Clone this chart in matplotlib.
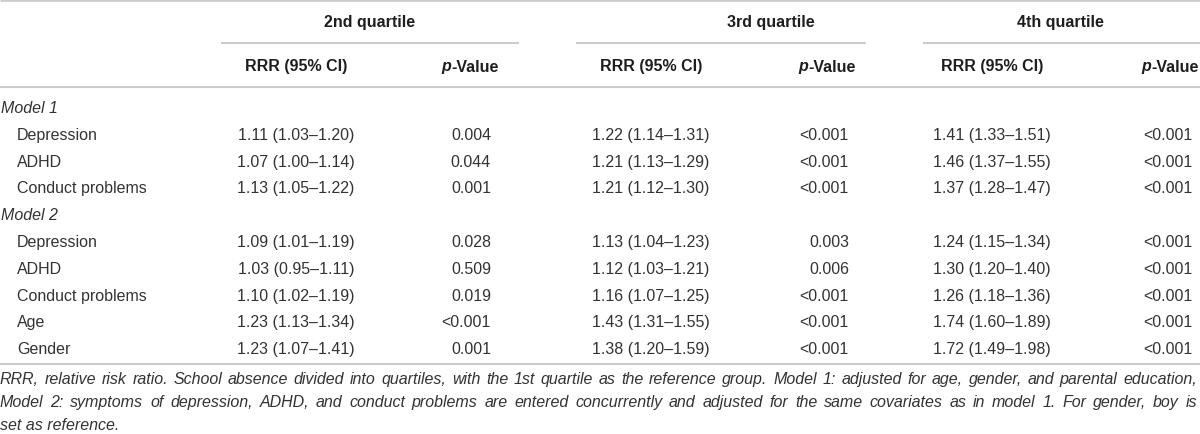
import matplotlib
matplotlib.use("Agg")
import matplotlib.pyplot as plt

# ---------------- data ----------------
groups = ["2nd quartile", "3rd quartile", "4th quartile"]
sub_headers = ["RRR (95% CI)", "p-Value"]
sections = ["Model 1", "Model 2"]
model1_vars = ["Depression", "ADHD", "Conduct problems"]
model2_vars = ["Depression", "ADHD", "Conduct problems", "Age", "Gender"]

# rows: Model 1 (Depression, ADHD, Conduct) then Model 2 (Depression, ADHD, Conduct, Age, Gender)
rrr_q2 = [1.11, 1.07, 1.13, 1.09, 1.03, 1.10, 1.23, 1.23]
lo_q2 = [1.03, 1.00, 1.05, 1.01, 0.95, 1.02, 1.13, 1.07]
hi_q2 = [1.20, 1.14, 1.22, 1.19, 1.11, 1.19, 1.34, 1.41]
p_q2 = ["0.004", "0.044", "0.001", "0.028", "0.509", "0.019", "<0.001", "0.001"]

rrr_q3 = [1.22, 1.21, 1.21, 1.13, 1.12, 1.16, 1.43, 1.38]
lo_q3 = [1.14, 1.13, 1.12, 1.04, 1.03, 1.07, 1.31, 1.20]
hi_q3 = [1.31, 1.29, 1.30, 1.23, 1.21, 1.25, 1.55, 1.59]
p_q3 = ["<0.001", "<0.001", "<0.001", "0.003", "0.006", "<0.001", "<0.001", "<0.001"]

rrr_q4 = [1.41, 1.46, 1.37, 1.24, 1.30, 1.26, 1.74, 1.72]
lo_q4 = [1.33, 1.37, 1.28, 1.15, 1.20, 1.18, 1.60, 1.49]
hi_q4 = [1.51, 1.55, 1.47, 1.34, 1.40, 1.36, 1.89, 1.98]
p_q4 = ["<0.001", "<0.001", "<0.001", "<0.001", "<0.001", "<0.001", "<0.001", "<0.001"]

footnote_lines = [
    "RRR, relative risk ratio. School absence divided into quartiles, with the 1st quartile as the reference group. Model 1: adjusted for age, gender, and parental education,",
    "Model 2: symptoms of depression, ADHD, and conduct problems are entered concurrently and adjusted for the same covariates as in model 1. For gender, boy is",
    "set as reference.",
]

# ---------------- layout ----------------
W, H = 1200, 435
FAM = ["Liberation Sans", "DejaVu Sans"]
FS = 11.5
TXT = "#333333"
HDR = "#1e1e1e"
LINE = "#cccccc"
LW = 1.5

fig = plt.figure(figsize=(12, 4.35), dpi=100)
ax = fig.add_axes([0, 0, 1, 1])
ax.set_xlim(0, W)
ax.set_ylim(H, 0)
ax.axis("off")
renderer = fig.canvas.get_renderer()

def txt(x, y, s, ha="left", weight="normal", style="normal", color=TXT):
    return ax.text(x, y, s, ha=ha, va="center", fontsize=FS, family=FAM,
                   fontweight=weight, fontstyle=style, color=color)

# horizontal rules
ax.hlines(1, 0, W, color=LINE, lw=2.0)
underlines = [(221, 519), (576, 866), (923, 1200)]
for x0, x1 in underlines:
    ax.hlines(44, x0, x1, color=LINE, lw=LW)
ax.hlines(88, 0, W, color=LINE, lw=LW)
ax.hlines(365, 0, W, color=LINE, lw=LW)

# column positions
group_cx = [370, 771, 1060]
rrr_cx = [296, 651, 992]
p_hdr_cx = [470, 827, 1170]
p_right = [491, 849, 1193]

y_grp = 22
y_sub = 67
for g, gx, rx, px in zip(groups, group_cx, rrr_cx, p_hdr_cx):
    txt(gx, y_grp, g, ha="center", weight="bold", color=HDR)
    txt(rx, y_sub, sub_headers[0], ha="center", weight="bold", color=HDR)
    # "p-Value" with italic p
    t1 = txt(0, y_sub, "p", weight="bold", style="italic", color=HDR)
    t2 = txt(0, y_sub, "-Value", weight="bold", color=HDR)
    w1 = t1.get_window_extent(renderer).width
    w2 = t2.get_window_extent(renderer).width
    left = px - (w1 + w2) / 2
    t1.set_x(left)
    t2.set_x(left + w1)

# body rows
row_step = 26.8
y0 = 108.5
labels = [(sections[0], True)] + [(v, False) for v in model1_vars] + \
         [(sections[1], True)] + [(v, False) for v in model2_vars]

rrr = [rrr_q2, rrr_q3, rrr_q4]
lo = [lo_q2, lo_q3, lo_q4]
hi = [hi_q2, hi_q3, hi_q4]
pv = [p_q2, p_q3, p_q4]

k = 0
for i, (lab, is_section) in enumerate(labels):
    y = y0 + i * row_step
    if is_section:
        txt(1, y, lab, style="italic")
        continue
    txt(17, y, lab)
    for q in range(3):
        s = f"{rrr[q][k]:.2f} ({lo[q][k]:.2f}\u2013{hi[q][k]:.2f})"
        txt(rrr_cx[q], y, s, ha="center")
        txt(p_right[q], y, pv[q][k], ha="right")
    k += 1

# footnote (justified)
foot_y = [380, 403, 426]
full_w = 1197
for li, (line, y) in enumerate(zip(footnote_lines, foot_y)):
    if li < len(footnote_lines) - 1:
        words = line.split(" ")
        objs = [txt(0, y, w, style="italic") for w in words]
        widths = [o.get_window_extent(renderer).width for o in objs]
        gap = (full_w - sum(widths)) / (len(words) - 1)
        x = 0
        for o, wd in zip(objs, widths):
            o.set_x(x)
            x += wd + gap
    else:
        txt(0, y, line, style="italic")

fig.savefig("out.png", dpi=100)
